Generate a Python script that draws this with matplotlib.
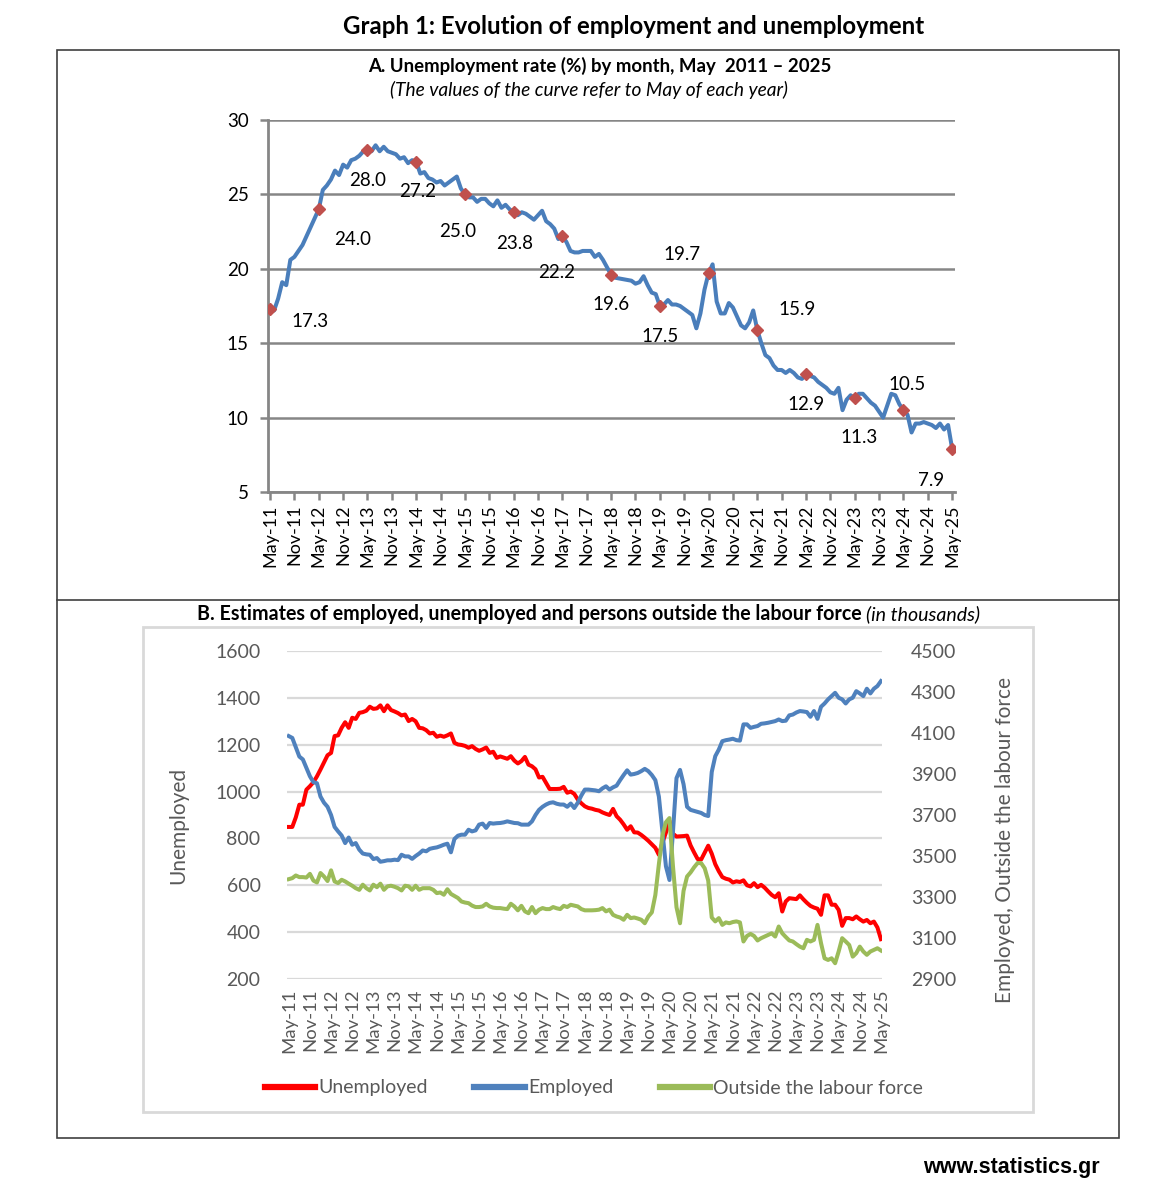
import matplotlib
matplotlib.use('Agg')
import matplotlib.pyplot as plt
from matplotlib.patches import Rectangle
from matplotlib.lines import Line2D
import numpy as np

plt.rcParams['font.family'] = ['Lato', 'DejaVu Sans']

# Datos mensuales, May-11 ... May-25 (169 meses)
unemployment_rate = [
    17.3, 17.2, 18.0, 19.1, 18.9, 20.6, 20.8, 21.2, 21.6, 22.2, 22.8, 23.4,
    24.0, 25.3, 25.6, 26.0, 26.6, 26.3, 27.0, 26.8, 27.3, 27.4, 27.6, 27.9,
    28.0, 27.9, 28.3, 27.9, 28.2, 27.9, 27.8, 27.7, 27.4, 27.5, 27.1, 27.3,
    27.2, 26.4, 26.5, 26.1, 26.0, 25.8, 25.9, 25.6, 25.8, 26.0, 26.2, 25.4,
    25.0, 24.8, 24.8, 24.5, 24.7, 24.7, 24.4, 24.2, 24.6, 24.1, 24.3, 24.0,
    23.8, 23.6, 23.8, 23.7, 23.5, 23.3, 23.6, 23.9, 23.2, 23.0, 22.7, 22.0,
    22.2, 21.8, 21.2, 21.1, 21.1, 21.2, 21.2, 21.2, 20.8, 21.0, 20.6, 20.1,
    19.6, 19.4, 19.35, 19.3, 19.25, 19.2, 19.0, 19.1, 19.5, 18.9, 18.4, 18.3,
    17.5, 17.6, 17.9, 17.6, 17.6, 17.5, 17.3, 17.1, 16.9, 16.0, 17.0, 18.6,
    19.7, 20.3, 17.8, 17.0, 17.0, 17.7, 17.4, 16.8, 16.2, 16.0, 16.4, 17.2,
    15.9, 15.0, 14.2, 14.0, 13.5, 13.2, 13.2, 13.0, 13.2, 13.0, 12.7, 12.6,
    12.9, 12.8, 12.7, 12.4, 12.2, 12.0, 11.7, 11.6, 12.0, 10.5, 11.2, 11.5,
    11.3, 11.6, 11.6, 11.3, 11.0, 10.8, 10.4, 10.0, 10.8, 11.6, 11.5, 10.9,
    10.5, 10.2, 9.0, 9.6, 9.6, 9.7, 9.6, 9.5, 9.3, 9.6, 9.2, 9.5,
    7.9,
]

unemployed = [
    849, 849, 890, 944, 944, 1008, 1023, 1040, 1065, 1094, 1125, 1155,
    1165, 1237, 1240, 1272, 1296, 1272, 1315, 1310, 1336, 1339, 1345, 1362,
    1353, 1355, 1368, 1343, 1368, 1348, 1342, 1335, 1325, 1329, 1301, 1310,
    1300, 1272, 1270, 1262, 1248, 1251, 1234, 1239, 1234, 1240, 1248, 1208,
    1201, 1199, 1195, 1187, 1194, 1182, 1174, 1180, 1188, 1165, 1170, 1144,
    1150, 1145, 1140, 1151, 1132, 1120, 1130, 1148, 1115, 1108, 1095, 1060,
    1063, 1037, 1011, 1011, 1011, 1012, 1020, 995, 1000, 990, 966, 950,
    937, 930, 927, 922, 919, 911, 905, 900, 926, 895, 880, 860,
    837, 852, 826, 825, 815, 803, 790, 775, 760, 730, 781, 825,
    875, 820, 808, 809, 810, 812, 770, 740, 712, 710, 740, 769,
    735, 690, 660, 635, 628, 624, 612, 617, 614, 621, 600, 595,
    609, 592, 602, 590, 574, 559, 549, 566, 488, 531, 545, 543,
    541, 557, 540, 525, 512, 505, 500, 474, 557, 557, 517, 517,
    495, 427, 460, 460, 455, 467, 455, 445, 452, 438, 445, 420,
    370,
]

employed = [
    4085, 4076, 4030, 3985, 3971, 3930, 3889, 3860, 3855, 3790, 3760, 3740,
    3700, 3642, 3620, 3600, 3563, 3590, 3555, 3563, 3531, 3512, 3508, 3506,
    3485, 3490, 3472, 3475, 3479, 3479, 3482, 3480, 3506, 3498, 3498, 3486,
    3500, 3512, 3527, 3523, 3535, 3539, 3542, 3548, 3555, 3560, 3518, 3583,
    3599, 3604, 3604, 3628, 3620, 3625, 3653, 3658, 3637, 3661, 3658, 3660,
    3661, 3664, 3669, 3665, 3661, 3660, 3653, 3653, 3653, 3669, 3700, 3725,
    3740, 3751, 3759, 3762, 3755, 3751, 3751, 3740, 3756, 3734, 3760, 3795,
    3824, 3824, 3822, 3820, 3816, 3830, 3840, 3824, 3835, 3843, 3870, 3895,
    3918, 3897, 3900, 3905, 3914, 3925, 3914, 3895, 3870, 3790, 3620, 3450,
    3383, 3620, 3880, 3920, 3850, 3740, 3725, 3720, 3715, 3710, 3700, 3695,
    3910, 3987, 4019, 4060, 4065, 4068, 4072, 4065, 4063, 4142, 4142, 4125,
    4130, 4134, 4145, 4147, 4150, 4154, 4158, 4166, 4158, 4160, 4186, 4190,
    4200, 4207, 4205, 4202, 4179, 4207, 4169, 4228, 4244, 4264, 4280, 4296,
    4272, 4264, 4244, 4264, 4272, 4304, 4293, 4280, 4316, 4293, 4316, 4329,
    4353,
]

outside_lf = [
    3387, 3392, 3405, 3397, 3397, 3395, 3413, 3380, 3371, 3417, 3400, 3378,
    3430, 3376, 3368, 3384, 3376, 3365, 3355, 3343, 3335, 3360, 3343, 3332,
    3360, 3348, 3365, 3335, 3352, 3355, 3350, 3343, 3332, 3355, 3352, 3335,
    3355, 3335, 3343, 3343, 3343, 3335, 3319, 3322, 3311, 3338, 3315, 3305,
    3295, 3278, 3273, 3270, 3258, 3251, 3251, 3254, 3267, 3254, 3248, 3246,
    3246, 3243, 3241, 3267, 3254, 3235, 3257, 3230, 3221, 3251, 3221, 3238,
    3246, 3241, 3241, 3251, 3245, 3241, 3257, 3251, 3262, 3258, 3254, 3241,
    3235, 3235, 3235, 3236, 3238, 3246, 3230, 3238, 3213, 3205, 3200, 3189,
    3213, 3197, 3200, 3195, 3189, 3172, 3205, 3225, 3310, 3460, 3600, 3665,
    3685, 3450, 3250, 3172, 3330, 3400, 3420, 3445, 3466, 3465, 3440, 3380,
    3200, 3181, 3197, 3164, 3176, 3172, 3178, 3181, 3176, 3083, 3110, 3120,
    3110, 3088, 3099, 3107, 3115, 3123, 3107, 3156, 3123, 3105, 3088, 3083,
    3070, 3058, 3050, 3091, 3083, 3091, 3164, 3075, 3001, 2993, 3001, 2977,
    3034, 3099, 3083, 3066, 3009, 3026, 3058, 3034, 3018, 3034, 3042, 3050,
    3039,
]

tick_labels = ['May-11', 'Nov-11', 'May-12', 'Nov-12', 'May-13', 'Nov-13',
               'May-14', 'Nov-14', 'May-15', 'Nov-15', 'May-16', 'Nov-16',
               'May-17', 'Nov-17', 'May-18', 'Nov-18', 'May-19', 'Nov-19',
               'May-20', 'Nov-20', 'May-21', 'Nov-21', 'May-22', 'Nov-22',
               'May-23', 'Nov-23', 'May-24', 'Nov-24', 'May-25']

# posiciones de las etiquetas de mayo (en pixeles respecto al marcador)
label_offsets = [(40, -13), (34, -30), (0, -31), (1, -30), (-7, -37), (1, -31),
                 (-6, -36), (0, -30), (0, -31), (-27, 19), (40, 20), (0, -30),
                 (4, -39), (4, 26), (-21, -32)]

W, H = 1172, 1200
def fx(p):
    return p / W
def fy(p):
    return 1 - p / H

months = np.arange(len(unemployment_rate))
may_idx = months[::12]
rate = np.array(unemployment_rate)

fig = plt.figure(figsize=(W / 100, H / 100), dpi=100)

# marcos
fig.add_artist(Rectangle((fx(57), fy(1138)), fx(1119) - fx(57), fy(50) - fy(1138),
                         transform=fig.transFigure, fill=False, ec='#404040', lw=1.2))
fig.add_artist(Line2D([fx(57), fx(1119)], [fy(600), fy(600)],
                      transform=fig.transFigure, color='#404040', lw=1.2))
fig.add_artist(Rectangle((fx(143), fy(1112)), fx(1033) - fx(143), fy(627) - fy(1112),
                         transform=fig.transFigure, fill=False, ec='#d9d9d9', lw=2))

fig.text(fx(634), fy(26), 'Graph 1: Evolution of employment and unemployment',
         ha='center', va='center', fontsize=17.3, fontweight='bold')

# ---------------- Panel A ----------------
fig.text(fx(600), fy(66), 'A. Unemployment rate (%) by month, May  2011 \u2013 2025',
         ha='center', va='center', fontsize=13.4, fontweight='bold')
fig.text(fx(589), fy(90), '(The values of the curve refer to May of each year)',
         ha='center', va='center', fontsize=13.8, style='italic')

gray = '#868686'
axA = fig.add_axes([fx(268), fy(492), fx(955) - fx(268), fy(120) - fy(492)])
axA.plot(months, rate, color='#4A7EBB', lw=2.9, zorder=3, solid_joinstyle='round')
axA.plot(may_idx, rate[may_idx], 'D', color='#C0504D', ms=6, zorder=4)
for i, (dx, dy) in zip(may_idx, label_offsets):
    axA.annotate(f'{rate[i]:.1f}', (i, rate[i]), xytext=(dx, dy),
                 textcoords='offset pixels', ha='center', va='center', fontsize=13.5)
axA.set_xlim(-0.5, 168.7)
axA.set_ylim(5, 30)
axA.set_yticks(range(5, 31, 5))
axA.set_xticks(range(0, 169, 6))
axA.set_xticklabels(tick_labels, rotation=90, fontsize=13)
axA.tick_params(axis='y', labelsize=13.5, length=6, width=1.8, color=gray, pad=8)
axA.tick_params(axis='x', length=6, width=1.8, color=gray, pad=3)
axA.yaxis.grid(True, color=gray, lw=1.8)
axA.set_axisbelow(True)
for s in ['top', 'right']:
    axA.spines[s].set_visible(False)
for s in ['left', 'bottom']:
    axA.spines[s].set_color(gray)
    axA.spines[s].set_linewidth(2)

# ---------------- Panel B ----------------
t1 = fig.text(fx(197), fy(614), 'B. Estimates of employed, unemployed and persons outside the labour force',
              ha='left', va='center', fontsize=14.1, fontweight='bold')
fig.canvas.draw()
bb = t1.get_window_extent(fig.canvas.get_renderer())
fig.text(bb.x1 / W + 0.004, fy(614), '(in thousands)', ha='left', va='center',
         fontsize=14.1, style='italic')

txt_gray = '#595959'
grid_gray = '#d9d9d9'
axB = fig.add_axes([fx(287), fy(979), fx(882) - fx(287), fy(651) - fy(979)])
axB2 = axB.twinx()
axB.plot(months, unemployed, color='#FF0000', lw=2.9, label='Unemployed')
axB2.plot(months, employed, color='#4F81BD', lw=2.9, label='Employed')
axB2.plot(months, outside_lf, color='#9BBB59', lw=2.9, label='Outside the labour force')
axB.set_xlim(-0.5, 168.3)
axB.set_ylim(200, 1600)
axB2.set_ylim(2900, 4500)
axB.set_yticks(range(200, 1601, 200))
axB2.set_yticks(range(2900, 4501, 200))
axB.set_xticks(range(0, 169, 6))
axB.set_xticklabels(tick_labels, rotation=90, fontsize=13.3, color=txt_gray)
axB.yaxis.grid(True, color=grid_gray, lw=1.6)
axB.set_axisbelow(True)
axB.tick_params(axis='y', length=0, pad=19, labelsize=14, labelcolor=txt_gray)
axB2.tick_params(axis='y', length=0, pad=21, labelsize=14, labelcolor=txt_gray)
axB.tick_params(axis='x', length=0, pad=7)
for a in (axB, axB2):
    for s in a.spines.values():
        s.set_visible(False)

fig.text(fx(178), fy(825), 'Unemployed', rotation=90, ha='center', va='center',
         fontsize=15, color=txt_gray)
fig.text(fx(1005), fy(840), 'Employed, Outside the labour force', rotation=90,
         ha='center', va='center', fontsize=15, color=txt_gray)

handles = [Line2D([], [], color='#FF0000', lw=4.5),
           Line2D([], [], color='#4F81BD', lw=4.5),
           Line2D([], [], color='#9BBB59', lw=4.5)]
fig.legend(handles, ['Unemployed', 'Employed', 'Outside the labour force'],
           loc='center', bbox_to_anchor=(fx(594), fy(1088)), ncol=3, frameon=False,
           fontsize=14, labelcolor=txt_gray, handlelength=2.6, handletextpad=0.15,
           columnspacing=2.4)

fig.text(fx(1100), fy(1168), 'www.statistics.gr', ha='right', va='center',
         fontsize=15.5, fontweight='bold', family=['Liberation Sans', 'DejaVu Sans'])

fig.savefig('out.png', dpi=100)
